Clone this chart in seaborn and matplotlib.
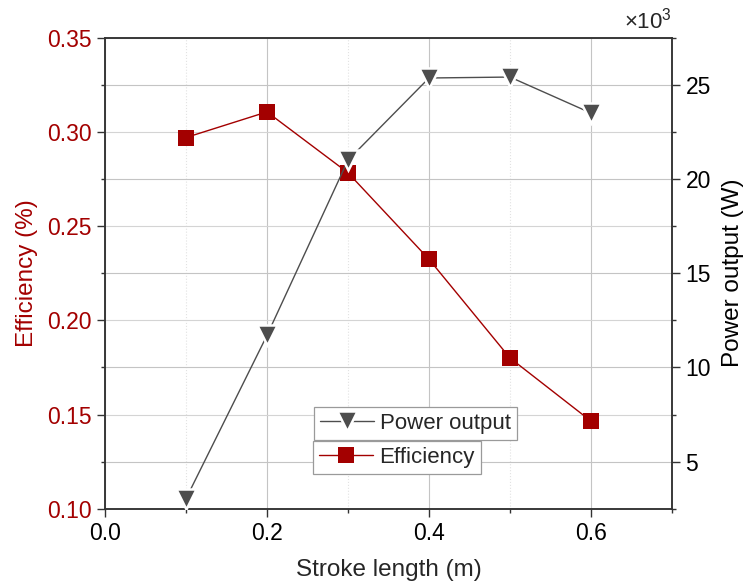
import numpy as np
import pandas as pd
import matplotlib
matplotlib.use("Agg")
import matplotlib.pyplot as plt
import seaborn as sns
from matplotlib.lines import Line2D
from matplotlib.ticker import MultipleLocator, FuncFormatter

# data
stroke = [0.1, 0.2, 0.3, 0.4, 0.5, 0.6]
efficiency = [0.297, 0.3106, 0.2783, 0.2324, 0.180, 0.1465]
power_w = [3030, 11700, 21000, 25360, 25410, 23500]

red = "#a30000"
gray = "#4d4d4d"

sns.set_theme(style="ticks")
plt.rcParams["font.family"] = ["Liberation Sans", "DejaVu Sans"]
plt.rcParams["mathtext.default"] = "regular"
plt.rcParams["axes.edgecolor"] = "#333333"
plt.rcParams["axes.linewidth"] = 1.1

df = pd.DataFrame({"stroke": stroke, "efficiency": efficiency, "power": power_w})

fig = plt.figure(figsize=(7.44, 5.85), dpi=100)
ax = fig.add_axes([0.1411, 0.1304, 0.9032 - 0.1411, 0.9356 - 0.1304])
ax2 = ax.twinx()

sns.lineplot(data=df, x="stroke", y="efficiency", ax=ax, color=red, lw=1.0,
             marker="s", markersize=11.5, markeredgecolor=red, markeredgewidth=0,
             zorder=3)
sns.lineplot(data=df, x="stroke", y="power", ax=ax2, color=gray, lw=1.0,
             marker="v", markersize=15, markeredgecolor="white", markeredgewidth=1.8,
             markerfacecolor=gray, zorder=3)

ax.set_xlim(0, 0.7)
ax.set_ylim(0.10, 0.35)
ax2.set_ylim(2500, 27500)

ax.xaxis.set_major_locator(MultipleLocator(0.2))
ax.xaxis.set_minor_locator(MultipleLocator(0.1))
ax.yaxis.set_major_locator(MultipleLocator(0.05))
ax.yaxis.set_minor_locator(MultipleLocator(0.025))
ax2.yaxis.set_major_locator(MultipleLocator(5000))
ax2.yaxis.set_minor_locator(MultipleLocator(2500))
ax.xaxis.set_major_formatter(FuncFormatter(lambda v, p: f"{v:.1f}"))
ax.yaxis.set_major_formatter(FuncFormatter(lambda v, p: f"{v:.2f}"))
ax2.yaxis.set_major_formatter(FuncFormatter(lambda v, p: f"{v / 1000:.0f}"))

# grids all drawn on the lower axes
ax.grid(which="major", axis="x", color="#c4c4c4", lw=0.8)
ax.grid(which="minor", axis="x", color="#e2e2e2", lw=0.8, ls=":")
ax.grid(which="major", axis="y", color="#d4d4d4", lw=0.8)
ax.grid(which="minor", axis="y", color="#c4c4c4", lw=0.8)
ax.set_axisbelow(True)

for a in (ax, ax2):
    a.tick_params(which="major", direction="out", length=5.8, width=1.0,
                  color="#333333", labelsize=16.5, pad=4)
    a.tick_params(which="minor", direction="out", length=3.2, width=1.0,
                  color="#333333")
ax.tick_params(axis="y", which="both", right=False, labelcolor=red)
ax.tick_params(axis="x", which="both", top=False, labelcolor="black")
ax2.tick_params(axis="y", labelcolor="black")

ax.set_xlabel("Stroke length (m)", fontsize=17.5, labelpad=10)
ax.set_ylabel("Efficiency (%)", fontsize=17.5, color=red, labelpad=6)
ax2.set_ylabel("Power output (W)", fontsize=17.5, color="black",
               rotation=90, labelpad=8)
ax2.text(1.0, 1.008, r"×10$^{3}$", transform=ax2.transAxes, ha="right",
         va="bottom", fontsize=16)

# Origin-style separate legend boxes
h_pow = Line2D([], [], color=gray, lw=1.0, marker="v", markersize=15,
               markerfacecolor=gray, markeredgecolor="white", markeredgewidth=1.8)
h_eff = Line2D([], [], color=red, lw=1.0, marker="s", markersize=11.5,
               markerfacecolor=red, markeredgewidth=0)
leg_kw = dict(frameon=True, fancybox=False, framealpha=1, edgecolor="#9a9a9a",
              fontsize=16, handlelength=2.4, handletextpad=0.3,
              borderpad=0.28, borderaxespad=0, loc="upper left",
              bbox_transform=fig.transFigure)
leg1 = ax2.legend([h_pow], ["Power output"], bbox_to_anchor=(314 / 744, 1 - 407 / 585), **leg_kw)
leg1.get_frame().set_linewidth(0.9)
ax2.add_artist(leg1)
leg2 = ax2.legend([h_eff], ["Efficiency"], bbox_to_anchor=(313 / 744, 1 - 441 / 585), **leg_kw)
leg2.get_frame().set_linewidth(0.9)

fig.savefig("out.png", dpi=100)
